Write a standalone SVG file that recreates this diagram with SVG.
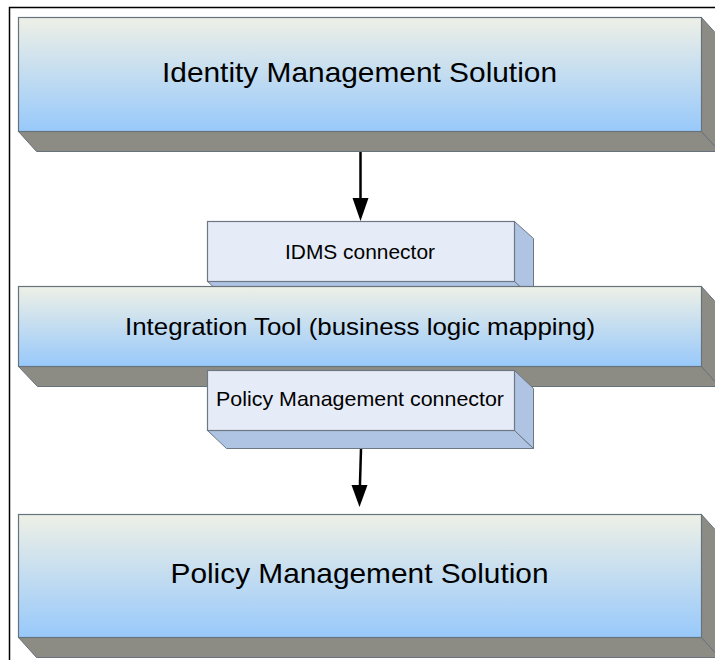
<svg xmlns="http://www.w3.org/2000/svg" width="715" height="660" viewBox="0 0 715 660">
  <defs>
    <linearGradient id="bigFront" x1="0" y1="0" x2="0" y2="1">
      <stop offset="0" stop-color="#eef0e6"/>
      <stop offset="1" stop-color="#98c9fb"/>
    </linearGradient>
    <style>
      .front { fill: url(#bigFront); stroke: #66727c; stroke-width: 1.2; }
      .depth { fill: #8c8c84; stroke: #66727c; stroke-width: 1; }
      .sfront { fill: #e6ecf7; stroke: #6d7884; stroke-width: 1.2; }
      .sdepth { fill: #afc3e3; stroke: #6d7884; stroke-width: 1; }
      .big { font-family: "Liberation Sans", Arial, sans-serif; font-size: 28px; fill: #000; text-anchor: middle; }
      .mid { font-family: "Liberation Sans", Arial, sans-serif; font-size: 24px; fill: #000; text-anchor: middle; }
      .small { font-family: "Liberation Sans", Arial, sans-serif; font-size: 21px; fill: #000; text-anchor: middle; }
      .wire { stroke: #000; stroke-width: 2.5; fill: none; }
      .head { fill: #000; }
    </style>
  </defs>

  <rect width="715" height="660" fill="#fff"/>
  <!-- outer frame -->
  <path d="M9.5,661 V7.5 H716" fill="none" stroke="#000" stroke-width="1.5"/>

  <g id="identity-management">
    <polygon class="depth" points="18.5,131.5 701.5,131.5 719.5,151.5 36.5,151.5"/>
    <polygon class="depth" points="701.5,17.5 719.5,37.5 719.5,151.5 701.5,131.5"/>
    <rect class="front" x="18.5" y="17.5" width="683" height="114"/>
    <text class="big" x="359.5" y="82" textLength="395" lengthAdjust="spacingAndGlyphs">Identity Management Solution</text>
  </g>

  <g id="idms-connector">
    <polygon class="sdepth" points="207.5,281.5 514.5,281.5 533.5,298.5 226.5,298.5"/>
    <polygon class="sdepth" points="514.5,221.5 533.5,238.5 533.5,298.5 514.5,281.5"/>
    <rect class="sfront" x="207.5" y="221.5" width="307" height="60"/>
    <text class="small" x="360" y="259" textLength="150" lengthAdjust="spacingAndGlyphs">IDMS connector</text>
  </g>

  <g id="integration-tool">
    <polygon class="depth" points="18.5,366.5 701.5,366.5 719.5,386.5 37.5,386.5"/>
    <polygon class="depth" points="701.5,286.5 719.5,306.5 719.5,386.5 701.5,366.5"/>
    <rect class="front" x="18.5" y="286.5" width="683" height="80"/>
    <text class="mid" x="360" y="335" textLength="470" lengthAdjust="spacingAndGlyphs">Integration Tool (business logic mapping)</text>
  </g>

  <g id="policy-connector">
    <polygon class="sdepth" points="207.5,430.5 514.5,430.5 533.5,448.5 226.5,448.5"/>
    <polygon class="sdepth" points="514.5,370.5 533.5,388.5 533.5,448.5 514.5,430.5"/>
    <rect class="sfront" x="207.5" y="370.5" width="307" height="60"/>
    <text class="small" x="360" y="406" textLength="288" lengthAdjust="spacingAndGlyphs">Policy Management connector</text>
  </g>

  <g id="policy-management">
    <polygon class="depth" points="18.5,637.5 701.5,637.5 719.5,657.5 36.5,657.5"/>
    <polygon class="depth" points="701.5,514.5 719.5,534.5 719.5,657.5 701.5,637.5"/>
    <rect class="front" x="18.5" y="514.5" width="683" height="123"/>
    <text class="big" x="359.5" y="583" textLength="378" lengthAdjust="spacingAndGlyphs">Policy Management Solution</text>
  </g>

  <g id="connectors">
    <line class="wire" x1="360.5" y1="152" x2="360.5" y2="202"/>
    <polygon class="head" points="352.5,198 368.5,198 360.5,221"/>
    <line class="wire" x1="361" y1="449" x2="359.8" y2="490"/>
    <polygon class="head" points="351.5,485 367.5,485 359.5,507"/>
  </g>
</svg>
